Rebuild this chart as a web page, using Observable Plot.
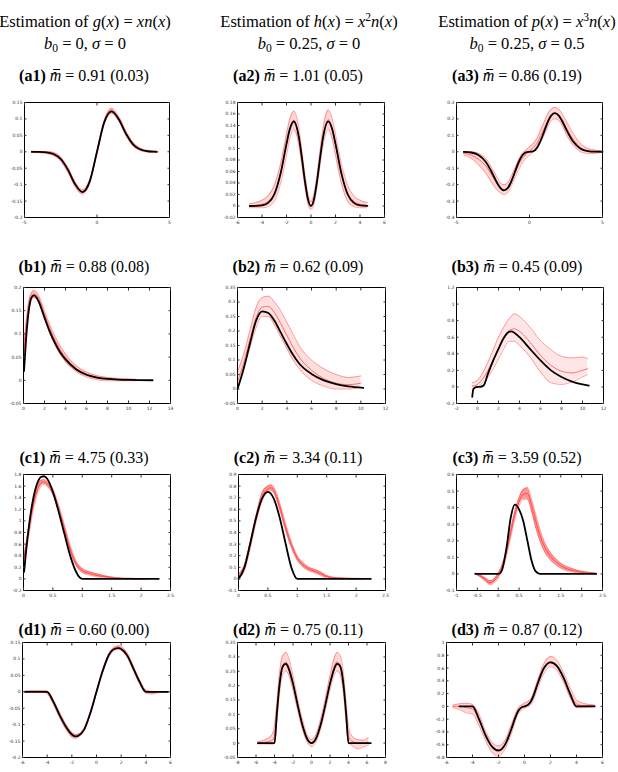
<!DOCTYPE html>
<html>
<head>
<meta charset="utf-8">
<script src="https://cdn.jsdelivr.net/npm/d3@7"></script>
<script src="https://cdn.jsdelivr.net/npm/@observablehq/plot@0.6"></script>
<style>
  html, body { margin: 0; padding: 0; background: #fff; }
  #fig { position: relative; width: 618px; height: 772px; overflow: hidden; background: #fff; }
  .h, .t { position: absolute; white-space: nowrap; transform: translateX(-50%); font-family: "Liberation Serif", "DejaVu Serif", serif; color: #000; line-height: 1; }
  .h { font-size: 16.5px; }
  .t { font-size: 16px; }
  .t b { font-weight: bold; }
  sup, sub { font-size: 0.7em; line-height: 0; position: relative; vertical-align: baseline; }
  sup { top: -0.5em; }
  sub { top: 0.3em; }
  .mh { position: relative; display: inline-block; font-style: italic; }
  .mh::before { content: "\02C6"; position: absolute; left: 0.2em; top: 0.12em; font-style: normal; font-size: 0.9em; line-height: 1; }
  .mh::after { content: ""; position: absolute; left: 0.2em; right: 0.1em; top: 0.06em; border-top: 1px solid #000; }
  .panel { position: absolute; }
</style>
</head>
<body>
<div id="fig"></div>
<script>
// ---------------- data ----------------
// (a1) g(x) = x n(x)
const a1_x    = [-4.5,-4,-3.5,-3,-2.5,-2,-1.5,-1,-0.5,0,0.5,1,1.5,2,2.5,3,3.5,4,4.1];
const a1_true = [0,-0.0003,-0.0016,-0.0068,-0.022,-0.055,-0.099,-0.123,-0.090,0,0.090,0.123,0.099,0.055,0.022,0.0068,0.0016,0.0003,0];
const a1_rx   = [-4.5,-4,-3.5,-3,-2.5,-2,-1.5,-1,-0.5,0,0.5,1,1.5,2,2.5,3,3.5,4,4.2];
const a1_lo   = [-0.002,-0.003,-0.005,-0.012,-0.029,-0.063,-0.107,-0.129,-0.095,-0.005,0.083,0.116,0.094,0.049,0.017,0.003,-0.001,-0.002,-0.002];
const a1_hi   = [0.002,0.001,0.001,-0.002,-0.016,-0.048,-0.092,-0.116,-0.084,0.005,0.096,0.132,0.108,0.063,0.028,0.011,0.004,0.002,0.001];
const a1_est  = [0,-0.001,-0.002,-0.007,-0.022,-0.056,-0.1,-0.123,-0.089,0,0.09,0.125,0.101,0.056,0.022,0.007,0.002,0,0];

// (a2) h(x) = x^2 n(x)
const a2_x    = [-5,-4.5,-4,-3.5,-3,-2.5,-2,-1.75,-1.4,-1,-0.75,-0.5,-0.25,0,0.25,0.5,0.75,1,1.4,1.75,2,2.5,3,3.5,4,4.6];
const a2_true = [0,0.0002,0.0011,0.0054,0.020,0.055,0.108,0.132,0.147,0.121,0.085,0.044,0.012,0,0.012,0.044,0.085,0.121,0.147,0.132,0.108,0.055,0.020,0.0054,0.0011,0.0001];
const a2_rx   = a2_x;
const a2_lo   = [-0.003,-0.003,-0.003,-0.001,0.008,0.038,0.088,0.115,0.133,0.107,0.072,0.034,0.004,-0.006,0.004,0.034,0.072,0.107,0.133,0.115,0.088,0.038,0.008,-0.001,-0.003,-0.003];
const a2_hi   = [0.004,0.006,0.010,0.018,0.036,0.072,0.125,0.150,0.165,0.137,0.098,0.055,0.022,0.008,0.022,0.055,0.098,0.137,0.167,0.150,0.125,0.072,0.036,0.018,0.010,0.006];
const a2_est  = [0,0.001,0.003,0.008,0.022,0.055,0.107,0.132,0.149,0.122,0.085,0.045,0.013,0.001,0.013,0.045,0.085,0.122,0.15,0.132,0.107,0.055,0.022,0.008,0.003,0.001];

// (a3) p(x) = x^3 n(x)
const a3_x    = [-4.5,-4,-3.5,-3,-2.5,-2.25,-2,-1.75,-1.5,-1.25,-1,-0.75,-0.5,-0.25,0,0.25,0.5,0.75,1,1.25,1.5,1.75,2,2.25,2.5,3,3.5,4,4.5,5];
const a3_true = [-0.0007,-0.0044,-0.019,-0.0608,-0.139,-0.184,-0.2196,-0.235,-0.222,-0.181,-0.123,-0.0646,-0.0224,-0.0031,0,0.0031,0.0224,0.0646,0.123,0.181,0.222,0.235,0.2196,0.184,0.139,0.0608,0.019,0.0044,0.0007,0.0001];
const a3_rx   = a3_x;
const a3_lo   = [-0.02,-0.04,-0.08,-0.13,-0.2,-0.23,-0.25,-0.26,-0.25,-0.21,-0.16,-0.11,-0.07,-0.04,-0.02,0,0.02,0.06,0.1,0.15,0.19,0.2,0.19,0.16,0.11,0.04,0,-0.01,-0.01,0];
const a3_hi   = [0,0,-0.01,-0.04,-0.11,-0.15,-0.19,-0.2,-0.19,-0.15,-0.1,-0.05,-0.01,0.01,0.03,0.05,0.08,0.13,0.18,0.23,0.26,0.27,0.26,0.23,0.19,0.11,0.05,0.02,0.01,0.003];
const a3_est  = [-0.01,-0.02,-0.045,-0.085,-0.155,-0.19,-0.22,-0.23,-0.22,-0.18,-0.13,-0.08,-0.04,-0.015,0.005,0.025,0.05,0.095,0.14,0.19,0.225,0.235,0.225,0.195,0.15,0.075,0.025,0.005,0,0];

// (b1)
const b1_x    = [0.05,0.25,0.5,0.75,1,1.25,1.5,2,2.5,3,3.5,4,5,6,7,8,9,10,11,12.3];
const b1_true = [0.02,0.09,0.15,0.178,0.183,0.178,0.167,0.135,0.105,0.08,0.06,0.045,0.024,0.012,0.006,0.003,0.0015,0.0007,0.0003,0.0001];
const b1_rx   = [0,0.25,0.5,0.75,1,1.25,1.5,2,2.5,3,3.5,4,5,6,7,8,9,10,10.7];
const b1_lo   = [0.03,0.1,0.148,0.172,0.178,0.175,0.165,0.133,0.102,0.076,0.056,0.04,0.019,0.007,0.001,-0.001,-0.001,-0.001,-0.001];
const b1_hi   = [0.065,0.125,0.17,0.188,0.193,0.19,0.18,0.15,0.12,0.095,0.074,0.057,0.032,0.018,0.01,0.006,0.004,0.003,0.002];
const b1_est  = [0.048,0.112,0.16,0.18,0.186,0.183,0.173,0.142,0.111,0.086,0.065,0.049,0.026,0.013,0.006,0.003,0.002,0.001,0.001];

// (b2)
const b2_x    = [0,0.5,1,1.5,2,2.5,3,3.5,4,4.5,5,6,7,8,9,10.2];
const b2_true = [0,0.07,0.155,0.235,0.268,0.262,0.235,0.195,0.155,0.118,0.088,0.052,0.030,0.017,0.009,0.004];
const b2_rx   = [0,0.5,1,1.5,2,2.5,3,3.5,4,4.5,5,6,7,8,9,10];
const b2_lo   = [0,0.07,0.14,0.21,0.25,0.25,0.22,0.18,0.14,0.1,0.07,0.03,0.01,0,0,0.005];
const b2_hi   = [0.06,0.12,0.2,0.28,0.315,0.32,0.3,0.27,0.23,0.19,0.15,0.1,0.07,0.05,0.04,0.045];
const b2_est  = [0.025,0.09,0.17,0.245,0.282,0.285,0.263,0.226,0.185,0.145,0.11,0.065,0.036,0.02,0.015,0.02];

// (b3)
const b3_x    = [-0.5,-0.4,-0.2,0,0.3,0.6,1,1.5,2,2.5,3,3.2,3.5,4,5,6,7,8,9,10,10.6];
const b3_true = [-0.12,-0.03,-0.005,0,0.002,0.02,0.16,0.32,0.46,0.59,0.665,0.67,0.655,0.6,0.46,0.32,0.2,0.12,0.065,0.03,0.015];
const b3_rx   = [-0.5,0,0.5,1,1.5,2,2.5,3,3.5,4,5,6,7,8,9,10,10.5];
const b3_lo   = [-0.02,0,0.05,0.12,0.22,0.34,0.46,0.55,0.55,0.5,0.36,0.18,0.05,0.03,0.06,0.12,0.15];
const b3_hi   = [0.05,0.08,0.17,0.3,0.45,0.6,0.72,0.82,0.88,0.85,0.72,0.56,0.45,0.37,0.35,0.36,0.34];
const b3_est  = [0.01,0.03,0.1,0.2,0.33,0.47,0.6,0.68,0.7,0.67,0.54,0.38,0.26,0.19,0.17,0.2,0.22];

// (c1)
const c1_x    = [0.01,0.05,0.1,0.15,0.2,0.25,0.3,0.35,0.4,0.5,0.6,0.7,0.8,0.9,0.95,1,1.5,2.3];
const c1_true = [0.12,0.54,0.97,1.30,1.54,1.69,1.76,1.77,1.73,1.5,1.15,0.76,0.38,0.11,0.03,0,0,0];
const c1_rx   = [0,0.05,0.1,0.15,0.2,0.25,0.3,0.35,0.4,0.5,0.6,0.7,0.8,0.9,1,1.1,1.2,1.4,1.6,1.8,2.1];
const c1_lo   = [0.2,0.5,0.8,1.1,1.33,1.5,1.6,1.63,1.6,1.45,1.15,0.8,0.45,0.22,0.11,0.07,0.045,0.02,0.005,0,0];
const c1_hi   = [0.35,0.65,0.95,1.25,1.48,1.63,1.7,1.71,1.68,1.55,1.27,0.92,0.56,0.3,0.18,0.13,0.1,0.05,0.02,0.01,0.003];
const c1_est  = [0.28,0.58,0.88,1.18,1.41,1.57,1.65,1.67,1.64,1.5,1.21,0.86,0.5,0.26,0.14,0.1,0.07,0.035,0.012,0.004,0.001];

// (c2)
const c2_x    = [0,0.1,0.2,0.3,0.4,0.5,0.6,0.7,0.8,0.9,1,1.5,2.25];
const c2_true = [0,0.097,0.307,0.529,0.691,0.75,0.691,0.529,0.307,0.097,0,0,0];
const c2_rx   = [0,0.1,0.2,0.3,0.4,0.5,0.55,0.6,0.7,0.8,0.9,1,1.1,1.2,1.3,1.4,1.5,1.7,2.1];
const c2_lo   = [0,0.07,0.26,0.49,0.67,0.75,0.76,0.74,0.6,0.42,0.27,0.16,0.1,0.07,0.05,0.03,0.01,0,0];
const c2_hi   = [0.04,0.12,0.32,0.55,0.74,0.8,0.81,0.79,0.66,0.48,0.32,0.2,0.14,0.1,0.08,0.06,0.03,0.01,0.003];
const c2_est  = [0.02,0.095,0.29,0.52,0.705,0.775,0.785,0.765,0.63,0.45,0.295,0.18,0.12,0.085,0.065,0.045,0.02,0.005,0.001];

// (c3)
const c3_x    = [-0.55,0,0.05,0.1,0.2,0.3,0.4,0.5,0.6,0.7,0.8,0.9,1,1.5,2.35];
const c3_true = [0,0,0.005,0.03,0.16,0.34,0.418,0.39,0.32,0.2,0.08,0.015,0,0,0];
const c3_rx   = [-0.55,-0.4,-0.3,-0.2,-0.1,0,0.1,0.2,0.3,0.4,0.5,0.6,0.7,0.8,0.9,1,1.1,1.2,1.35,1.5,1.8,2.35];
const c3_lo   = [0,-0.025,-0.045,-0.065,-0.055,-0.025,0.03,0.11,0.22,0.33,0.41,0.45,0.45,0.38,0.28,0.2,0.14,0.1,0.06,0.035,0.01,0];
const c3_hi   = [0.005,-0.01,-0.025,-0.04,-0.03,0.005,0.06,0.15,0.27,0.38,0.46,0.51,0.52,0.45,0.36,0.27,0.2,0.15,0.1,0.065,0.03,0.005];
const c3_est  = [0.002,-0.018,-0.035,-0.052,-0.042,-0.01,0.045,0.13,0.245,0.355,0.435,0.48,0.485,0.415,0.32,0.235,0.17,0.125,0.08,0.05,0.02,0.002];

// (d1)
const d1_x    = [-5.8,-4,-3.5,-3,-2.5,-2,-1.7,-1.5,-1,-0.5,0,0.5,1,1.5,1.8,2,2.5,3,3.5,4,5.8];
const d1_true = [0,0,-0.03,-0.07,-0.105,-0.13,-0.136,-0.134,-0.115,-0.065,0,0.063,0.112,0.131,0.133,0.13,0.11,0.07,0.03,0,0];
const d1_rx   = [-5.8,-5,-4.2,-4,-3.5,-3,-2.5,-2,-1.7,-1.5,-1,-0.5,0,0.5,1,1.5,1.8,2,2.5,3,3.5,4,4.5,5,5.8];
const d1_lo   = [-0.001,-0.001,-0.002,-0.006,-0.038,-0.078,-0.113,-0.138,-0.142,-0.139,-0.118,-0.068,-0.004,0.058,0.106,0.127,0.13,0.126,0.104,0.064,0.024,-0.004,-0.007,-0.003,-0.001];
const d1_hi   = [0.002,0.003,0.003,0.002,-0.024,-0.062,-0.097,-0.123,-0.13,-0.129,-0.11,-0.06,0.004,0.067,0.116,0.137,0.14,0.137,0.118,0.078,0.037,0.006,0.001,0.001,0.001];
const d1_est  = [0,0.001,0,-0.002,-0.031,-0.07,-0.105,-0.13,-0.136,-0.134,-0.114,-0.064,0,0.062,0.111,0.132,0.135,0.131,0.111,0.071,0.03,0.001,-0.003,-0.001,0];

// (d2)
const d2_x    = [-5.8,-4,-3.75,-3.5,-3.25,-3,-2.75,-2.5,-2,-1.5,-1,-0.5,0,0.5,1,1.5,2,2.5,2.75,3,3.25,3.5,3.75,4,6.4];
const d2_true = [0,0,0.1,0.19,0.25,0.272,0.276,0.262,0.207,0.133,0.065,0.017,0,0.017,0.065,0.133,0.207,0.262,0.276,0.272,0.25,0.19,0.1,0,0];
const d2_rx   = [-5.8,-5,-4.25,-4,-3.75,-3.5,-3.25,-3,-2.75,-2.5,-2,-1.5,-1,-0.5,0,0.5,1,1.5,2,2.5,2.75,3,3.25,3.5,3.75,4,4.25,5,5.5,6.2];
const d2_lo   = [-0.003,-0.003,-0.004,0,0.07,0.16,0.22,0.245,0.25,0.24,0.185,0.115,0.05,0.006,-0.012,0.006,0.05,0.115,0.185,0.24,0.25,0.245,0.22,0.16,0.07,0,-0.006,-0.02,-0.015,-0.005];
const d2_hi   = [0.005,0.012,0.03,0.06,0.14,0.23,0.29,0.31,0.315,0.3,0.235,0.155,0.085,0.032,0.012,0.032,0.085,0.155,0.235,0.3,0.315,0.31,0.29,0.23,0.14,0.06,0.03,0.012,0.01,0.02];
const d2_est  = [0,0.003,0.01,0.025,0.105,0.195,0.255,0.277,0.282,0.27,0.21,0.135,0.067,0.018,0,0.018,0.067,0.135,0.21,0.27,0.282,0.277,0.255,0.195,0.105,0.025,0.01,0,0,0.005];

// (d3)
const d3_x    = [-5,-4,-3.5,-3,-2.5,-2,-1.5,-1,-0.75,-0.5,-0.25,0,0.25,0.5,0.75,1,1.5,2,2.5,3,3.5,4,5.4];
const d3_true = [0,0,-0.2,-0.45,-0.63,-0.69,-0.6,-0.35,-0.2,-0.08,-0.02,0,0.02,0.08,0.2,0.35,0.6,0.69,0.63,0.45,0.2,0,0];
const d3_rx   = [-5.5,-5,-4.5,-4,-3.5,-3,-2.5,-2,-1.5,-1,-0.5,0,0.5,1,1.5,2,2.5,3,3.5,4,4.5,5,5.4];
const d3_lo   = [-0.02,-0.05,-0.1,-0.12,-0.3,-0.53,-0.72,-0.78,-0.67,-0.42,-0.12,-0.03,0.03,0.27,0.52,0.62,0.56,0.38,0.14,-0.02,-0.02,-0.01,0];
const d3_hi   = [0.02,0.04,0.05,0.03,-0.12,-0.38,-0.56,-0.62,-0.53,-0.28,-0.03,0.05,0.12,0.4,0.67,0.78,0.72,0.53,0.3,0.1,0.05,0.03,0.02];
const d3_est  = [0,0,-0.02,-0.04,-0.21,-0.46,-0.64,-0.7,-0.6,-0.35,-0.075,0.01,0.075,0.335,0.595,0.7,0.64,0.455,0.22,0.04,0.01,0.01,0.01];

// tick labels
const ticks_x5   = [-5,0,5];
const ticks_x6   = [-6,-4,-2,0,2,4,6];
const ticks_x8   = [-8,-6,-4,-2,0,2,4,6,8];
const ticks_x14  = [0,2,4,6,8,10,12,14];
const ticks_x12  = [0,2,4,6,8,10,12];
const ticks_xm2  = [-2,0,2,4,6,8,10,12];
const ticks_x25  = [0,0.5,1,1.5,2,2.5];
const ticks_xm1  = [-1,-0.5,0,0.5,1,1.5,2,2.5];
const ticks_y015 = [-0.2,-0.15,-0.1,-0.05,0,0.05,0.1,0.15];
const ticks_y018 = [-0.02,0,0.02,0.04,0.06,0.08,0.1,0.12,0.14,0.16,0.18];
const ticks_y03  = [-0.4,-0.3,-0.2,-0.1,0,0.1,0.2,0.3];
const ticks_y02  = [-0.05,0,0.05,0.1,0.15,0.2];
const ticks_y035 = [-0.05,0,0.05,0.1,0.15,0.2,0.25,0.3,0.35];
const ticks_y12  = [-0.2,0,0.2,0.4,0.6,0.8,1,1.2];
const ticks_y18  = [-0.2,0,0.2,0.4,0.6,0.8,1,1.2,1.4,1.6,1.8];
const ticks_y09  = [-0.1,0,0.1,0.2,0.3,0.4,0.5,0.6,0.7,0.8,0.9];
const ticks_y06  = [-0.1,0,0.1,0.2,0.3,0.4,0.5,0.6];
const ticks_y1   = [-0.8,-0.6,-0.4,-0.2,0,0.2,0.4,0.6,0.8,1];

// header / title texts
const headers = [
  ['Estimation of <i>g</i>(<i>x</i>) = <i>xn</i>(<i>x</i>)', '<i>b</i><sub>0</sub> = 0, <i>σ</i> = 0'],
  ['Estimation of <i>h</i>(<i>x</i>) = <i>x</i><sup>2</sup><i>n</i>(<i>x</i>)', '<i>b</i><sub>0</sub> = 0.25, <i>σ</i> = 0'],
  ['Estimation of <i>p</i>(<i>x</i>) = <i>x</i><sup>3</sup><i>n</i>(<i>x</i>)', '<i>b</i><sub>0</sub> = 0.25, <i>σ</i> = 0.5']
];
const panelLabels = ["a1","a2","a3","b1","b2","b3","c1","c2","c3","d1","d2","d3"];
const mValues = ["0.91","1.01","0.86","0.88","0.62","0.45","4.75","3.34","3.59","0.60","0.75","0.87"];
const mSd     = ["0.03","0.05","0.19","0.08","0.09","0.09","0.33","0.11","0.52","0.00","0.11","0.12"];

// ---------------- layout (page px) ----------------
const fig = document.getElementById("fig");
const headerCx = [85, 309, 527];
const titleCx = [84, 298, 517];
const titleTop = [68, 259, 450, 622];

headers.forEach((h, j) => {
  const d1 = document.createElement("div");
  d1.className = "h"; d1.style.left = headerCx[j] + "px"; d1.style.top = "14px"; d1.innerHTML = h[0];
  const d2 = document.createElement("div");
  d2.className = "h"; d2.style.left = headerCx[j] + "px"; d2.style.top = "36px"; d2.innerHTML = h[1];
  fig.appendChild(d1); fig.appendChild(d2);
});
panelLabels.forEach((lab, k) => {
  const r = Math.floor(k / 3), c = k % 3;
  const d = document.createElement("div");
  d.className = "t"; d.style.left = titleCx[c] + "px"; d.style.top = titleTop[r] + "px";
  d.innerHTML = `<b>(${lab})</b> <span class="mh">m</span> = ${mValues[k]} (${mSd[k]})`;
  fig.appendChild(d);
});

const panels = [
  {f:[24,169,102,217], xd:[-5,5], yd:[-0.2,0.15], xt:ticks_x5, yt:ticks_y015, tx:a1_x, ty:a1_true, rx:a1_rx, lo:a1_lo, hi:a1_hi, est:a1_est, op:0.35},
  {f:[237,384,102,217], xd:[-6,6], yd:[-0.02,0.18], xt:ticks_x6, yt:ticks_y018, tx:a2_x, ty:a2_true, rx:a2_rx, lo:a2_lo, hi:a2_hi, est:a2_est, op:0.2},
  {f:[456,602,102,217], xd:[-5,5], yd:[-0.4,0.3], xt:ticks_x5, yt:ticks_y03, tx:a3_x, ty:a3_true, rx:a3_rx, lo:a3_lo, hi:a3_hi, est:a3_est, op:0.2},
  {f:[23,170,287,403], xd:[0,14], yd:[-0.05,0.2], xt:ticks_x14, yt:ticks_y02, tx:b1_x, ty:b1_true, rx:b1_rx, lo:b1_lo, hi:b1_hi, est:b1_est, op:0.3},
  {f:[237,385,287,403], xd:[0,12], yd:[-0.05,0.35], xt:ticks_x12, yt:ticks_y035, tx:b2_x, ty:b2_true, rx:b2_rx, lo:b2_lo, hi:b2_hi, est:b2_est, op:0.16},
  {f:[456,603,287,403], xd:[-2,12], yd:[-0.2,1.2], xt:ticks_xm2, yt:ticks_y12, tx:b3_x, ty:b3_true, rx:b3_rx, lo:b3_lo, hi:b3_hi, est:b3_est, op:0.12},
  {f:[23,170,474,590], xd:[0,2.5], yd:[-0.2,1.8], xt:ticks_x25, yt:ticks_y18, tx:c1_x, ty:c1_true, rx:c1_rx, lo:c1_lo, hi:c1_hi, est:c1_est, op:0.5},
  {f:[238,385,474,590], xd:[0,2.5], yd:[-0.1,0.9], xt:ticks_x25, yt:ticks_y09, tx:c2_x, ty:c2_true, rx:c2_rx, lo:c2_lo, hi:c2_hi, est:c2_est, op:0.5},
  {f:[456,602,474,590], xd:[-1,2.5], yd:[-0.1,0.6], xt:ticks_xm1, yt:ticks_y06, tx:c3_x, ty:c3_true, rx:c3_rx, lo:c3_lo, hi:c3_hi, est:c3_est, op:0.5},
  {f:[22,170,642,757], xd:[-6,6], yd:[-0.2,0.15], xt:ticks_x6, yt:ticks_y015, tx:d1_x, ty:d1_true, rx:d1_rx, lo:d1_lo, hi:d1_hi, est:d1_est, op:0.35},
  {f:[237,385,642,757], xd:[-8,8], yd:[-0.05,0.35], xt:ticks_x8, yt:ticks_y035, tx:d2_x, ty:d2_true, rx:d2_rx, lo:d2_lo, hi:d2_hi, est:d2_est, op:0.2},
  {f:[446,602,642,757], xd:[-6,6], yd:[-0.8,1], xt:ticks_x6, yt:ticks_y1, tx:d3_x, ty:d3_true, rx:d3_rx, lo:d3_lo, hi:d3_hi, est:d3_est, op:0.2}
];

const ML = 24, MR = 4, MT = 4, MB = 10;
const curve = "monotone-x";
const fmt = d => String(d);

panels.forEach(p => {
  const [x0, x1, y0, y1] = p.f;
  const truth = p.tx.map((x, i) => ({x, y: p.ty[i]}));
  const red = p.rx.map((x, i) => ({x, lo: p.lo[i], hi: p.hi[i], est: p.est[i]}));
  const dotted = {stroke: "#ff1a1a", strokeWidth: 0.6, strokeDasharray: "1,1", strokeOpacity: 0.75, curve};
  const svg = Plot.plot({
    width: x1 - x0 + ML + MR,
    height: y1 - y0 + MT + MB,
    marginLeft: ML, marginRight: MR, marginTop: MT, marginBottom: MB,
    x: {domain: p.xd},
    y: {domain: p.yd},
    style: {background: "transparent", color: "#333", overflow: "visible", fontFamily: "DejaVu Sans, sans-serif"},
    marks: [
      Plot.areaY(red, {x: "x", y1: "lo", y2: "hi", fill: "#ff3030", fillOpacity: p.op, curve}),
      Plot.lineY(red, {x: "x", y: "lo", ...dotted}),
      Plot.lineY(red, {x: "x", y: "hi", ...dotted}),
      Plot.lineY(red, {x: "x", y: "est", ...dotted, strokeWidth: 0.9}),
      Plot.lineY(truth, {x: "x", y: "y", stroke: "#000", strokeWidth: 1.8, curve}),
      Plot.frame({stroke: "#000", strokeWidth: 1}),
      Plot.axisX(p.xt, {anchor: "bottom", tickSize: -2.5, tickPadding: 5.5, fontSize: 4.5, tickFormat: fmt, label: null}),
      Plot.axisX(p.xt, {anchor: "top", tickSize: -2.5, tickFormat: () => "", label: null}),
      Plot.axisY(p.yt, {anchor: "left", tickSize: -2.5, tickPadding: 4.5, fontSize: 4.5, tickFormat: fmt, label: null}),
      Plot.axisY(p.yt, {anchor: "right", tickSize: -2.5, tickFormat: () => "", label: null})
    ]
  });
  const wrap = document.createElement("div");
  wrap.className = "panel";
  wrap.style.left = (x0 - ML) + "px";
  wrap.style.top = (y0 - MT) + "px";
  wrap.appendChild(svg);
  fig.appendChild(wrap);
});
</script>
</body>
</html>
